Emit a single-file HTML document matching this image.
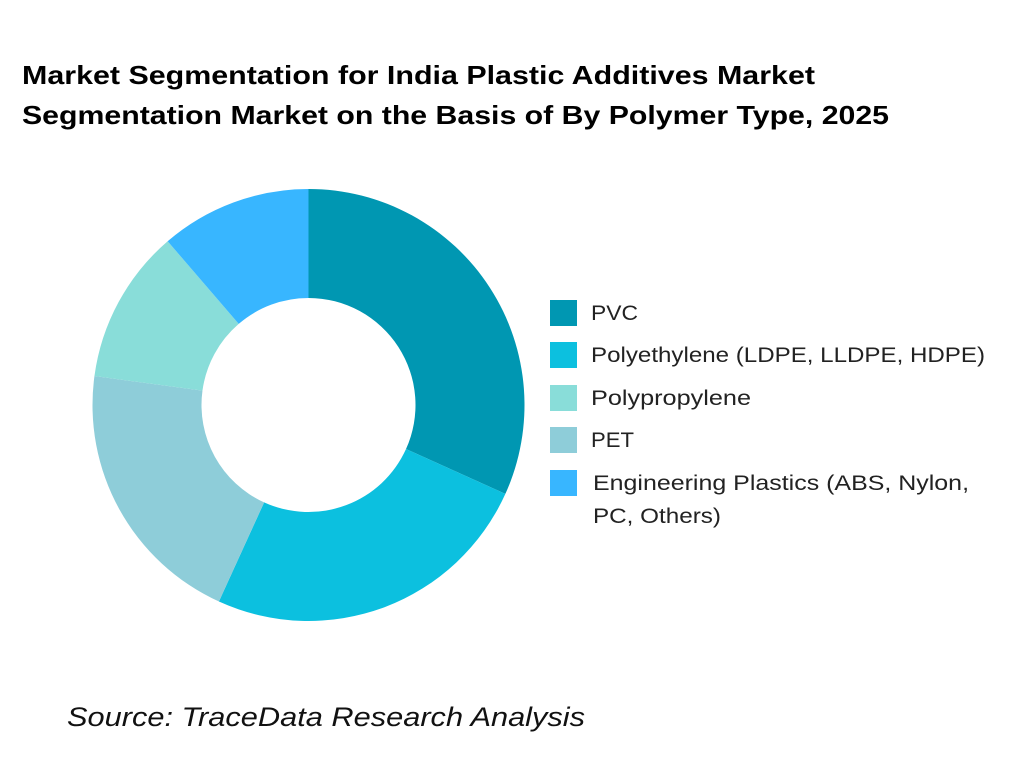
<!DOCTYPE html>
<html><head><meta charset="utf-8"><style>
body{margin:0;width:1024px;height:768px;background:#fff;font-family:"Liberation Sans",sans-serif;overflow:hidden}
</style></head><body>
<svg width="1024" height="768" xmlns="http://www.w3.org/2000/svg">
<text x="22" y="84" font-size="26" font-weight="bold" fill="#000" textLength="793" lengthAdjust="spacingAndGlyphs">Market Segmentation for India Plastic Additives Market</text>
<text x="22" y="124" font-size="26" font-weight="bold" fill="#000" textLength="867" lengthAdjust="spacingAndGlyphs">Segmentation Market on the Basis of By Polymer Type, 2025</text>
<g id="d"></g>
<g font-size="21" fill="#222" lengthAdjust="spacingAndGlyphs">
<rect x="550" y="300" width="27" height="26" fill="#0097B2"/><text x="591" y="320" textLength="47" lengthAdjust="spacingAndGlyphs">PVC</text>
<rect x="550" y="342" width="27" height="26" fill="#0CC0DF"/><text x="591" y="362" textLength="394" lengthAdjust="spacingAndGlyphs">Polyethylene (LDPE, LLDPE, HDPE)</text>
<rect x="550" y="385" width="27" height="26" fill="#89DDD9"/><text x="591" y="405" textLength="160" lengthAdjust="spacingAndGlyphs">Polypropylene</text>
<rect x="550" y="427" width="27" height="26" fill="#8ECDD9"/><text x="591" y="447" textLength="43" lengthAdjust="spacingAndGlyphs">PET</text>
<rect x="550" y="470" width="27" height="26" fill="#38B6FF"/><text x="593" y="490" textLength="376" lengthAdjust="spacingAndGlyphs">Engineering Plastics (ABS, Nylon,</text>
<text x="593" y="523" textLength="128" lengthAdjust="spacingAndGlyphs">PC, Others)</text>
</g>
<text x="67" y="726" font-size="27" font-style="italic" fill="#111" textLength="518" lengthAdjust="spacingAndGlyphs">Source: TraceData Research Analysis</text>
</svg>
<script>
var cx=308.5,cy=405,R=216,r=107;
var segs=[[0,114.3,"#0097B2"],[114.3,204.5,"#0CC0DF"],[204.5,277.7,"#8ECDD9"],[277.7,319.3,"#89DDD9"],[319.3,360,"#38B6FF"]];
function p(a,rad){a=a*Math.PI/180;return [cx+rad*Math.sin(a),cy-rad*Math.cos(a)];}
var h="";
segs.forEach(function(s){var a=p(s[0],R),b=p(s[1],R),c=p(s[1],r),d=p(s[0],r);var l=(s[1]-s[0])>180?1:0;
h+='<path d="M'+a+' A'+R+' '+R+' 0 '+l+' 1 '+b+' L'+c+' A'+r+' '+r+' 0 '+l+' 0 '+d+' Z" fill="'+s[2]+'"/>';});
document.getElementById("d").innerHTML=h;
</script>
</body></html>
